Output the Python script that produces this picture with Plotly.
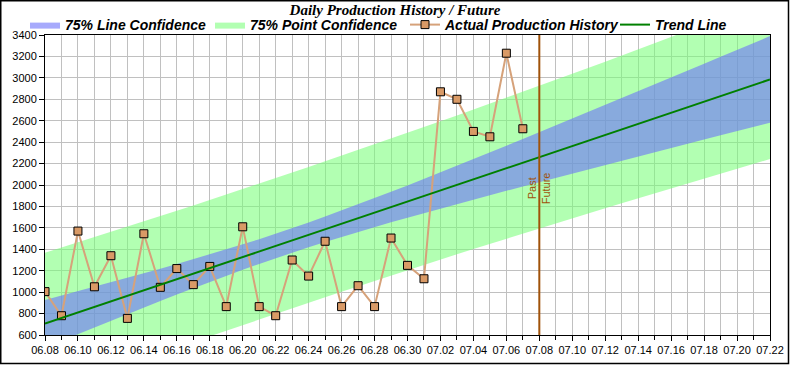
import numpy as np
import plotly.graph_objects as go

# ---------------- data ----------------
DATES = ["2023-06-08", "2023-06-09", "2023-06-10", "2023-06-11", "2023-06-12",
         "2023-06-13", "2023-06-14", "2023-06-15", "2023-06-16", "2023-06-17",
         "2023-06-18", "2023-06-19", "2023-06-20", "2023-06-21", "2023-06-22",
         "2023-06-23", "2023-06-24", "2023-06-25", "2023-06-26", "2023-06-27",
         "2023-06-28", "2023-06-29", "2023-06-30", "2023-07-01", "2023-07-02",
         "2023-07-03", "2023-07-04", "2023-07-05", "2023-07-06", "2023-07-07"]
PRODUCTION = [1005, 780, 1570, 1050, 1340, 755, 1545, 1045, 1220, 1070,
              1240, 865, 1610, 865, 780, 1300, 1150, 1475, 865, 1060,
              865, 1505, 1250, 1125, 2870, 2800, 2500, 2450, 3230, 2525]
AXIS_START = "2023-06-08"
AXIS_END = "2023-07-22"
SPLIT_DATE = "2023-07-08"
CONF_Z = 1.1503          # two-sided 75% confidence multiplier
Y_TICKS = list(range(600, 3401, 200))

# ---------------- regression (trend + confidence bands) ----------------
d_data = np.array(DATES, dtype="datetime64[D]")
d0 = np.datetime64(AXIS_START, "D")
x = (d_data - d0).astype(float)
y = np.array(PRODUCTION, dtype=float)
n = len(x)
slope, intercept = np.polyfit(x, y, 1)
resid = y - (intercept + slope * x)
s = np.sqrt(np.sum(resid ** 2) / (n - 2))
xm = x.mean()
sxx = np.sum((x - xm) ** 2)

d_all = np.arange(d0, np.datetime64(AXIS_END, "D") + 1)
xa = (d_all - d0).astype(float)
trend = intercept + slope * xa
line_hw = CONF_Z * s * np.sqrt(1.0 / n + (xa - xm) ** 2 / sxx)
point_hw = CONF_Z * s * np.sqrt(1.0 + 1.0 / n + (xa - xm) ** 2 / sxx)
d_all_s = [str(v) for v in d_all]

GREEN_FILL = "rgba(120,255,120,0.57)"
BLUE_FILL = "rgba(108,113,250,0.6)"
BROWN = "#A0520A"
FONT = "Liberation Sans, Arial, sans-serif"

W, H = 790, 365
ML, MR, MT, MB = 45, 20, 35, 30
pw, ph = W - ML - MR, H - MT - MB

fig = go.Figure()

# point confidence band
fig.add_trace(go.Scatter(x=d_all_s, y=trend - point_hw, mode="lines",
                         line=dict(width=0), showlegend=False, hoverinfo="skip"))
fig.add_trace(go.Scatter(x=d_all_s, y=trend + point_hw, mode="lines",
                         line=dict(width=0, color="#404040"), fill="tonexty",
                         fillcolor=GREEN_FILL, name="75% Point Confidence",
                         legend="legend2"))
# line confidence band
fig.add_trace(go.Scatter(x=d_all_s, y=trend - line_hw, mode="lines",
                         line=dict(width=0), showlegend=False, hoverinfo="skip"))
fig.add_trace(go.Scatter(x=d_all_s, y=trend + line_hw, mode="lines",
                         line=dict(width=0, color="#404040"), fill="tonexty",
                         fillcolor=BLUE_FILL, name="75% Line Confidence",
                         legend="legend"))
# actual
fig.add_trace(go.Scatter(x=DATES, y=PRODUCTION, mode="lines+markers",
                         line=dict(color="#D6A27A", width=2),
                         marker=dict(symbol="square", size=8, color="#D99A66",
                                     line=dict(color="black", width=1)),
                         name="Actual Production History", legend="legend3"))
# trend
fig.add_trace(go.Scatter(x=d_all_s, y=trend, mode="lines",
                         line=dict(color="#008000", width=2),
                         name="Trend Line", legend="legend4"))

# past / future divider
fig.add_vline(x=SPLIT_DATE, line=dict(color=BROWN, width=2))
fig.add_annotation(x=SPLIT_DATE, y=0.49, yref="paper", text="Past", textangle=-90,
                   showarrow=False, xshift=-7, font=dict(family=FONT, size=11, color=BROWN))
fig.add_annotation(x=SPLIT_DATE, y=0.49, yref="paper", text="Future", textangle=-90,
                   showarrow=False, xshift=7, font=dict(family=FONT, size=11, color=BROWN))

# outer frame of the whole image
fig.add_shape(type="rect", xref="paper", yref="paper",
              x0=-(ML - 0.75) / pw, x1=1 + (MR - 1.5) / pw,
              y0=-(MB - 1.5) / ph, y1=1 + (MT - 0.75) / ph,
              line=dict(color="black", width=1.5), layer="above")

legend_font = dict(family=FONT, size=14, color="black", weight="bold", style="italic")
legend_y = 1 + (MT - 25) / ph


def leg(px):
    return dict(orientation="h", x=(px - ML) / pw, xanchor="left", y=legend_y,
                yanchor="middle", font=legend_font, bgcolor="rgba(0,0,0,0)",
                borderwidth=0)


fig.update_layout(
    width=W, height=H,
    margin=dict(l=ML, r=MR, t=MT, b=MB, autoexpand=False),
    paper_bgcolor="white", plot_bgcolor="white",
    title=dict(text="Daily Production History / Future", x=0.5, xanchor="center",
               y=1 - 10 / H, yanchor="middle",
               font=dict(family="Liberation Serif, Times New Roman, serif", size=15,
                         color="black", weight="bold", style="italic")),
    legend=leg(25), legend2=leg(210), legend3=leg(405), legend4=leg(615),
    showlegend=True,
)
fig.update_xaxes(
    type="date", range=[AXIS_START, AXIS_END], tickformat="%m.%d",
    dtick=2 * 86400000, tick0=AXIS_START, ticks="outside", ticklen=5,
    tickcolor="black", showgrid=True, gridcolor="#C0C0C0", gridwidth=1,
    minor=dict(dtick=86400000, tick0=AXIS_START, ticks="outside", ticklen=4,
               tickcolor="black", showgrid=True, gridcolor="#C0C0C0"),
    showline=True, linecolor="black", linewidth=1, mirror=True,
    tickfont=dict(family=FONT, size=11, color="black"), zeroline=False,
)
fig.update_yaxes(
    range=[600, 3400], tickvals=Y_TICKS, ticks="outside", ticklen=5,
    tickcolor="black", showgrid=True, gridcolor="#C0C0C0", gridwidth=1,
    showline=True, linecolor="black", linewidth=1, mirror=True,
    tickfont=dict(family=FONT, size=11, color="black"), zeroline=False,
)

fig.write_html("out.html",
               config={"displayModeBar": False},
               post_script="document.body.style.margin='0px';"
                           "document.body.style.overflow='hidden';")
